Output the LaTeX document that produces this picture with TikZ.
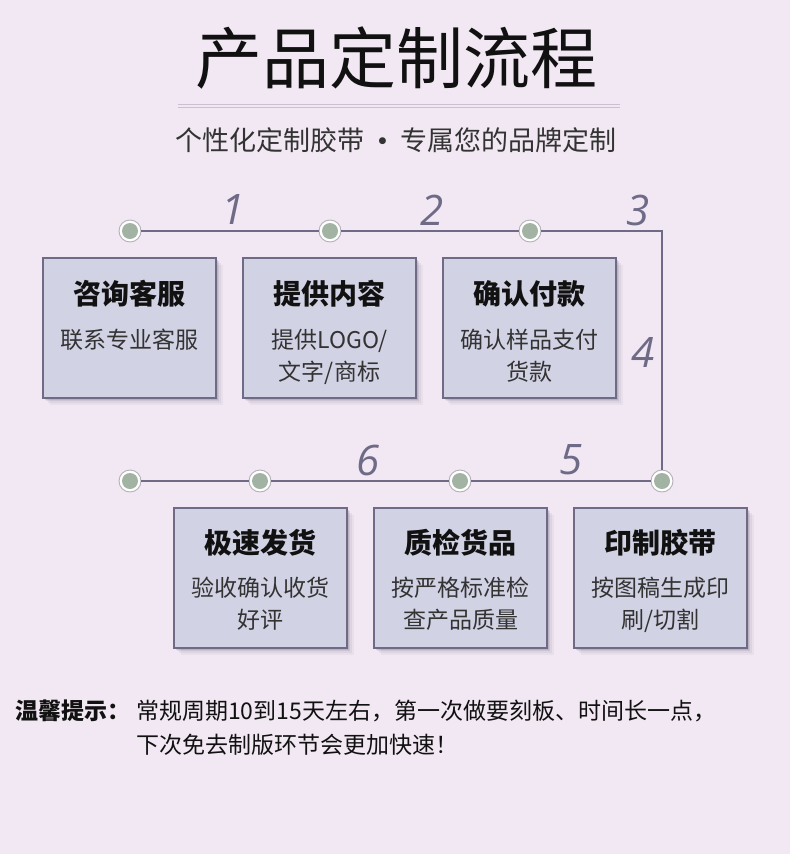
\documentclass[tikz,border=0pt]{standalone}
\usepackage{fontspec}
\setmainfont{Noto Sans CJK SC}
\newfontfamily\numfont{Open Sans}
\newfontfamily\symfont{DejaVu Sans}
\definecolor{bg}{HTML}{F2E8F3}
\definecolor{boxfill}{HTML}{D1D2E4}
\definecolor{edge}{HTML}{6F6B87}
\definecolor{shadowc}{HTML}{5A5470}
\definecolor{dotc}{HTML}{A2B3A3}
\definecolor{ringc}{HTML}{B4B0B8}
\definecolor{rulec}{HTML}{CBBFD3}
\definecolor{titlec}{HTML}{111111}
\definecolor{bodyc}{HTML}{333333}
\begin{document}
\begin{tikzpicture}[x=1pt,y=-1pt,
  stepbox/.style={draw=edge, line width=1.2pt, fill=boxfill, minimum width=173pt, minimum height=140pt, inner sep=0pt,
    preaction={fill=shadowc, fill opacity=0.06, draw=none, transform canvas={xshift=7pt, yshift=-7pt}},
    preaction={fill=shadowc, fill opacity=0.08, draw=none, transform canvas={xshift=5pt, yshift=-5pt}},
    preaction={fill=shadowc, fill opacity=0.12, draw=none, transform canvas={xshift=3pt, yshift=-3pt}},
    preaction={fill=shadowc, fill opacity=0.16, draw=none, transform canvas={xshift=1.5pt, yshift=-1.5pt}}},
  boxtitle/.style={font=\fontsize{28}{32}\selectfont\bfseries, text=titlec, inner sep=0pt},
  boxbody/.style={font=\fontsize{23}{32}\selectfont, text=bodyc, align=center, anchor=north, inner sep=0pt},
  dotnode/.style={circle, minimum size=22pt, inner sep=0pt, fill=white, draw=ringc, line width=0.9pt,
    path picture={\fill[dotc] (path picture bounding box.center) circle (8pt);}},
  flow/.style={draw=edge, line width=1.3pt},
  num/.style={font=\numfont\itshape\fontsize{42}{42}\selectfont, text=edge, inner sep=0pt},
  rule/.style={draw=rulec, line width=1pt}
]
\useasboundingbox (0,0) rectangle (790,854);
\fill[bg] (0,0) rectangle (790,854);

% header
\node[font=\fontsize{67}{70}\selectfont, text=titlec, inner sep=0pt] (title) at (396,58) {产品定制流程};
\draw[rule] (178,104.5) -- (620,104.5);
\draw[rule] (178,107.5) -- (620,107.5);
\node[font=\fontsize{27}{30}\selectfont, text=bodyc, inner sep=0pt] (subtitle) at (396,140) {个性化定制胶带\hspace{14pt}\raisebox{6.5pt}{\symfont\fontsize{9}{9}\selectfont ●}\hspace{14pt}专属您的品牌定制};

% path coordinates
\coordinate (tr) at (662,231);
\node[dotnode] (t1) at (130,231) {};
\node[dotnode] (t2) at (330,231) {};
\node[dotnode] (t3) at (530,231) {};
\node[dotnode] (b1) at (130,481) {};
\node[dotnode] (b2) at (260,481) {};
\node[dotnode] (b3) at (460,481) {};
\node[dotnode] (b4) at (662,481) {};

\draw[flow] (t1.east) -- (t2.west);
\draw[flow] (t2.east) -- (t3.west);
\draw[flow] (t3.east) -- (tr) -- (b4.north);
\draw[flow] (b4.west) -- (b3.east);
\draw[flow] (b3.west) -- (b2.east);
\draw[flow] (b2.west) -- (b1.east);

% step numbers
\node[num] (n1) at (233,210) {1};
\node[num] (n2) at (432,210) {2};
\node[num] (n3) at (638,210) {3};
\node[num] (n4) at (643,352) {4};
\node[num] (n5) at (571,460) {5};
\node[num] (n6) at (368,460) {6};

% top boxes
\node[stepbox] (s1) at (129.5,328) {};
\node[stepbox] (s2) at (329.5,328) {};
\node[stepbox] (s3) at (529.5,328) {};
\node[boxtitle] (s1t) at (129.5,294) {咨询客服};
\node[boxtitle] (s2t) at (329.5,294) {提供内容};
\node[boxtitle] (s3t) at (529.5,294) {确认付款};
\node[boxbody] (s1b) at (129.5,329) {联系专业客服};
\node[boxbody] (s2b) at (329.5,329) {提供LOGO/\\文字/商标};
\node[boxbody] (s3b) at (529.5,329) {确认样品支付\\货款};

% bottom boxes
\node[stepbox] (s6) at (260.5,578) {};
\node[stepbox] (s5) at (460.5,578) {};
\node[stepbox] (s4) at (660.5,578) {};
\node[boxtitle] (s6t) at (260.5,543) {极速发货};
\node[boxtitle] (s5t) at (460.5,543) {质检货品};
\node[boxtitle] (s4t) at (660.5,543) {印制胶带};
\node[boxbody] (s6b) at (260.5,577) {验收确认收货\\好评};
\node[boxbody] (s5b) at (460.5,577) {按严格标准检\\查产品质量};
\node[boxbody] (s4b) at (660.5,577) {按图稿生成印\\刷/切割};

% footer
\node[font=\fontsize{23}{26}\selectfont\bfseries, text=titlec, anchor=west, inner sep=0pt] (tip) at (15,711) {温馨提示：};
\node[font=\fontsize{23}{26}\selectfont, text=titlec, anchor=west, inner sep=0pt] (tipa) at (136,711) {常规周期10到15天左右，第一次做要刻板、时间长一点，};
\node[font=\fontsize{23}{26}\selectfont, text=titlec, anchor=west, inner sep=0pt] (tipb) at (136,745) {下次免去制版环节会更加快速！};
\end{tikzpicture}
\end{document}
